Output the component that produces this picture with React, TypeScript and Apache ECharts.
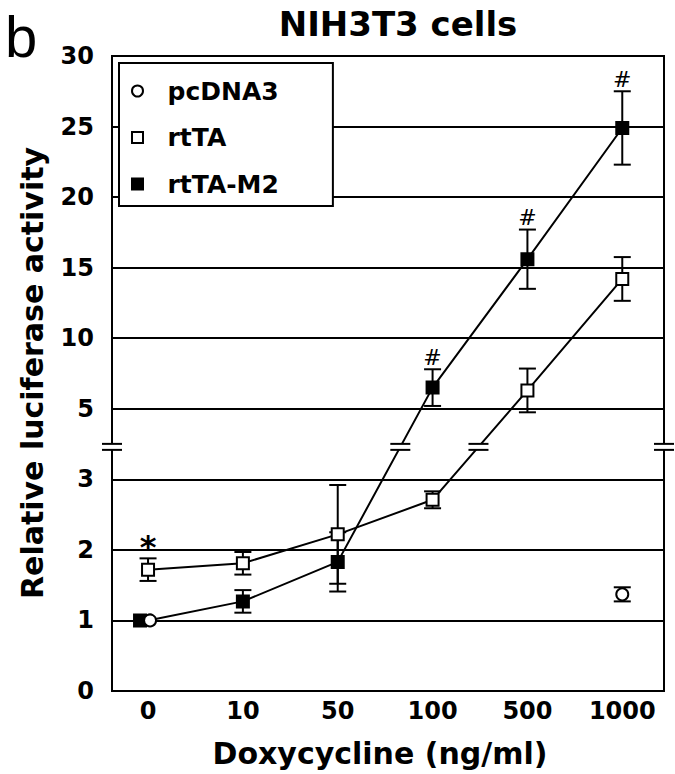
import React, { useEffect, useRef } from 'react';
import * as echarts from 'echarts';

// ---- data ----
const doses = ['0', '10', '50', '100', '500', '1000'];
const yTickLabels = ['0', '1', '2', '3', '5', '10', '15', '20', '25', '30'];

const pcDNA3X = [0, 5];
const pcDNA3Mean = [1.0, 1.37];
const pcDNA3Err = [0, 0.1];

const rtTAMean = [1.72, 1.81, 2.22, 2.71, 6.3, 14.2];
const rtTAErr = [0.16, 0.16, 0.7, 0.12, 1.55, 1.55];
const rtTAMarks = ['*', '', '', '', '', ''];

const m2Mean = [1.0, 1.27, 1.83, 6.5, 15.6, 24.9];
const m2Err = [0, 0.16, 0.42, 1.3, 2.1, 2.6];
const m2Marks = ['', '', '', '#', '#', '#'];

// ---- broken axis transform: 0..3 linear, then 5..30 compressed (5 per step) ----
const ty = (v: number) => (v <= 3 ? v : 3 + v / 5);
const BREAK = 3.46;
const X_MIN = -0.38;
const X_MAX = 5.44;
const FONT = 'DejaVu Sans';

function crossX(means: number[]): number | null {
  const t = means.map(ty);
  for (let i = 0; i < t.length - 1; i++) {
    if (t[i] < BREAK && t[i + 1] > BREAK) return i + (BREAK - t[i]) / (t[i + 1] - t[i]);
  }
  return null;
}

function errData(xs: number[], means: number[], errs: number[]) {
  return means.map((m, i) => [xs[i], ty(m - errs[i]), ty(m + errs[i]), ty(m)]);
}

function errRender(marks: string[]) {
  return (params: any, api: any) => {
    const x = api.value(0);
    const lo = api.coord([x, api.value(1)]);
    const hi = api.coord([x, api.value(2)]);
    const w = 8.5;
    const ls = { stroke: '#000', lineWidth: 2 };
    const children: any[] = [];
    if (api.value(2) > api.value(1)) {
      children.push({ type: 'line', shape: { x1: lo[0], y1: lo[1], x2: hi[0], y2: hi[1] }, style: ls });
      children.push({ type: 'line', shape: { x1: lo[0] - w, y1: lo[1], x2: lo[0] + w, y2: lo[1] }, style: ls });
      children.push({ type: 'line', shape: { x1: hi[0] - w, y1: hi[1], x2: hi[0] + w, y2: hi[1] }, style: ls });
    }
    const mark = marks[Math.round(x)];
    if (mark) {
      const star = mark === '*';
      children.push({
        type: 'text',
        x: hi[0],
        y: hi[1] - (star ? 11 : 12),
        style: {
          text: mark,
          fill: '#000',
          fontFamily: FONT,
          fontSize: star ? 32 : 22,
          fontWeight: star ? 'bold' : 'normal',
          align: 'center',
          verticalAlign: 'middle',
          textAlign: 'center',
          textVerticalAlign: 'middle',
        },
      });
    }
    return { type: 'group', children };
  };
}

function breakRender(params: any, api: any) {
  const p = api.coord([api.value(0), api.value(1)]);
  const hw = 10;
  const g = 3;
  return {
    type: 'group',
    children: [
      { type: 'rect', shape: { x: p[0] - hw, y: p[1] - g, width: hw * 2, height: g * 2 }, style: { fill: '#fff' } },
      { type: 'line', shape: { x1: p[0] - hw, y1: p[1] - g, x2: p[0] + hw, y2: p[1] - g }, style: { stroke: '#000', lineWidth: 2 } },
      { type: 'line', shape: { x1: p[0] - hw, y1: p[1] + g, x2: p[0] + hw, y2: p[1] + g }, style: { stroke: '#000', lineWidth: 2 } },
    ],
  };
}

export default function App() {
  const ref = useRef<HTMLDivElement>(null);

  useEffect(() => {
    const chart = echarts.init(ref.current!, null, { renderer: 'svg' });
    const idx = doses.map((_, i) => i);
    const lbl = { color: '#000', fontFamily: FONT, fontWeight: 'bold' as const, fontSize: 24 };
    const breakPts: number[][] = [[X_MIN, BREAK], [X_MAX, BREAK]];
    const cm2 = crossX(m2Mean);
    const crt = crossX(rtTAMean);
    if (cm2 !== null) breakPts.push([cm2, BREAK]);
    if (crt !== null) breakPts.push([crt, BREAK]);

    const option: any = {
      animation: false,
      backgroundColor: '#ffffff',
      grid: {
        left: 112, right: 11, top: 56, bottom: 83,
        show: true, borderColor: '#000', borderWidth: 2,
        containLabel: false, outerBoundsMode: 'none',
      },
      xAxis: {
        type: 'value', min: X_MIN, max: X_MAX, minInterval: 1, maxInterval: 1,
        axisLine: { show: true, onZero: false, lineStyle: { color: '#000', width: 2 } },
        axisTick: { show: false },
        splitLine: { show: false },
        axisLabel: {
          ...lbl, margin: 8, showMinLabel: false, showMaxLabel: false,
          formatter: (v: number) => {
            const i = Math.round(v);
            return Math.abs(v - i) < 1e-6 && doses[i] !== undefined ? doses[i] : '';
          },
        },
      },
      yAxis: {
        type: 'value', min: 0, max: 9, interval: 1,
        axisLine: { show: true, onZero: false, lineStyle: { color: '#000', width: 2 } },
        axisTick: { show: false },
        splitLine: { show: true, lineStyle: { color: '#000', width: 2 } },
        axisLabel: {
          ...lbl, margin: 18,
          formatter: (v: number) => yTickLabels[Math.round(v)] ?? '',
        },
      },
      legend: {
        orient: 'vertical', left: 119, top: 63,
        padding: [15.5, 54, 9.5, 12],
        itemGap: 21.5, itemWidth: 11, itemHeight: 11,
        backgroundColor: '#fff', borderColor: '#000', borderWidth: 2, borderRadius: 0,
        selectedMode: false,
        textStyle: { color: '#000', fontFamily: FONT, fontWeight: 'bold', fontSize: 25, padding: [0, 0, 0, 19.5] },
        data: [
          { name: 'pcDNA3', icon: 'circle', itemStyle: { color: '#fff', borderColor: '#000', borderWidth: 2 } },
          { name: 'rtTA', icon: 'rect', itemStyle: { color: '#fff', borderColor: '#000', borderWidth: 2 } },
          { name: 'rtTA-M2', icon: 'rect', itemStyle: { color: '#000', borderColor: '#000', borderWidth: 2 } },
        ],
      },
      graphic: [
        { type: 'text', x: 5, y: 36, style: { text: 'b', fill: '#000', fontFamily: 'Liberation Sans', fontSize: 58, fontWeight: 'normal', align: 'left', verticalAlign: 'middle', textAlign: 'left', textVerticalAlign: 'middle' } },
        { type: 'text', x: 398, y: 24, style: { text: 'NIH3T3 cells', fill: '#000', fontFamily: FONT, fontSize: 34, fontWeight: 'bold', align: 'center', verticalAlign: 'middle', textAlign: 'center', textVerticalAlign: 'middle' } },
        { type: 'text', x: 380, y: 753, style: { text: 'Doxycycline (ng/ml)', fill: '#000', fontFamily: FONT, fontSize: 30, fontWeight: 'bold', align: 'center', verticalAlign: 'middle', textAlign: 'center', textVerticalAlign: 'middle' } },
        { type: 'text', x: 32, y: 373, rotation: Math.PI / 2, style: { text: 'Relative luciferase activity', fill: '#000', fontFamily: FONT, fontSize: 30, fontWeight: 'bold', align: 'center', verticalAlign: 'middle', textAlign: 'center', textVerticalAlign: 'middle' } },
      ],
      series: [
        {
          name: 'rtTA-M2 err', type: 'custom', z: 2, renderItem: errRender(m2Marks),
          data: errData(idx, m2Mean, m2Err), silent: true,
        },
        {
          name: 'rtTA err', type: 'custom', z: 2, renderItem: errRender(rtTAMarks),
          data: errData(idx, rtTAMean, rtTAErr), silent: true,
        },
        {
          name: 'pcDNA3 err', type: 'custom', z: 2, renderItem: errRender(['', '', '', '', '', '']),
          data: errData(pcDNA3X, pcDNA3Mean, pcDNA3Err), silent: true,
        },
        {
          name: 'rtTA-M2', type: 'line', z: 3,
          symbol: 'rect', symbolSize: 12,
          lineStyle: { color: '#000', width: 2 },
          itemStyle: { color: '#000', borderColor: '#000', borderWidth: 2 },
          data: m2Mean.map((m, i) => (i === 0 ? { value: [i, ty(m)], symbolOffset: [-8, 0] } : { value: [i, ty(m)] })),
        },
        {
          name: 'rtTA', type: 'line', z: 3,
          symbol: 'rect', symbolSize: 12,
          lineStyle: { color: '#000', width: 2 },
          itemStyle: { color: '#fff', borderColor: '#000', borderWidth: 2 },
          data: rtTAMean.map((m, i) => [i, ty(m)]),
        },
        {
          name: 'pcDNA3', type: 'scatter', z: 4,
          symbol: 'circle', symbolSize: 12,
          itemStyle: { color: '#fff', borderColor: '#000', borderWidth: 2, opacity: 1 },
          data: pcDNA3Mean.map((m, i) => (pcDNA3X[i] === 0 ? { value: [pcDNA3X[i], ty(m)], symbolOffset: [2, 0] } : { value: [pcDNA3X[i], ty(m)] })),
        },
        {
          name: 'breaks', type: 'custom', z: 10, renderItem: breakRender,
          data: breakPts, silent: true,
        },
      ],
    };
    chart.setOption(option);
    return () => chart.dispose();
  }, []);

  return <div ref={ref} style={{ position: 'fixed', left: 0, top: 0, width: 675, height: 774 }} />;
}
